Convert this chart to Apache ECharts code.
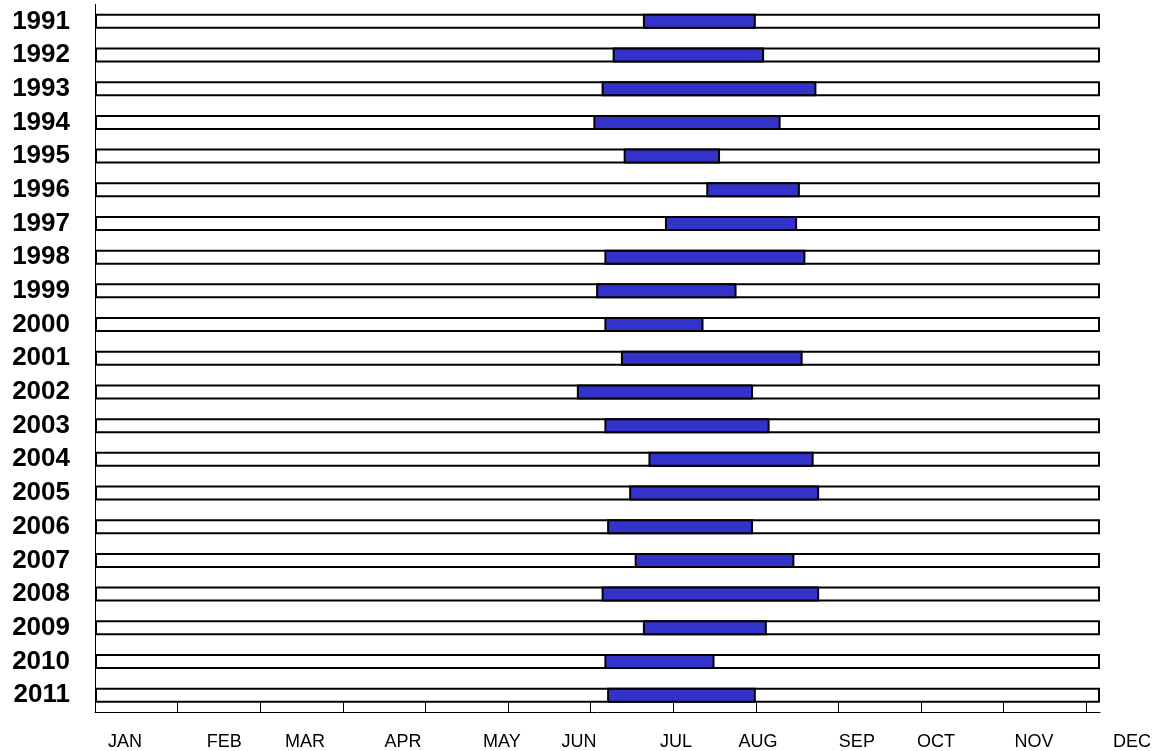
<!DOCTYPE html>
<html>
<head>
<meta charset="utf-8">
<script src="https://cdn.jsdelivr.net/npm/echarts@6/dist/echarts.min.js"></script>
<style>
html,body{margin:0;padding:0;background:#fff;}
#chart{width:1165px;height:751px;}
</style>
</head>
<body>
<div id="chart"></div>
<script>
// Years (rows, top to bottom)
var years = ['1991','1992','1993','1994','1995','1996','1997','1998','1999','2000','2001','2002','2003','2004','2005','2006','2007','2008','2009','2010','2011'];
// Start day-of-year of the blue period
var startDay = [199,188,184,181,192,222,207,185,182,185,191,175,185,201,194,186,196,184,199,185,186];
// End day-of-year of the blue period
var endDay   = [240,243,262,249,227,256,255,258,233,221,257,239,245,261,263,239,254,263,244,225,240];
// Full-year length (white background bar)
var yearLength = 365;
// Tick marks on the day axis
var tickDays = [0,30,60,90,120,150,180,210,240,270,300,330,360];
// Month label text and the day-of-year where each label sits
var monthNames = ['JAN','FEB','MAR','APR','MAY','JUN','JUL','AUG','SEP','OCT','NOV','DEC'];
var monthLabelDays = [10.9,46.9,76.3,111.9,147.8,175.8,211.0,240.8,276.7,305.4,341.0,376.6];

var fullBar = years.map(function(){ return yearLength; });
var spanLen = endDay.map(function(e,i){ return e - startDay[i]; });

var chart = echarts.init(document.getElementById('chart'), null, {renderer:'canvas'});
var option = {
  animation: false,
  backgroundColor: '#ffffff',
  grid: [
    {left: 95, right: 65, top: 4.5, bottom: 39},
    {left: 95, right: 0, top: 4.5, bottom: 39}
  ],
  xAxis: [
    {
      type: 'value', gridIndex: 0, min: 0, max: yearLength, interval: 30,
      axisLine: {show: true, lineStyle: {color: '#000', width: 1}},
      axisTick: {show: true, inside: true, length: 10, customValues: tickDays, lineStyle: {color: '#000', width: 1}},
      axisLabel: {show: false},
      splitLine: {show: false}
    },
    {
      type: 'value', gridIndex: 1, min: 0, max: yearLength * 1070 / 1005,
      axisLine: {show: false}, axisTick: {show: false}, splitLine: {show: false},
      axisLabel: {
        show: true, margin: 28, color: '#000', fontSize: 18,
        fontFamily: 'Liberation Sans, Arial, sans-serif',
        customValues: monthLabelDays,
        formatter: function(v){
          var best = 0, bd = 1e9;
          for (var i = 0; i < monthLabelDays.length; i++) {
            var d = Math.abs(monthLabelDays[i] - v);
            if (d < bd) { bd = d; best = i; }
          }
          return monthNames[best];
        }
      }
    }
  ],
  yAxis: [
    {
      type: 'category', gridIndex: 0, data: years, inverse: true,
      axisLine: {show: true, lineStyle: {color: '#000', width: 1}},
      axisTick: {show: false},
      axisLabel: {
        interval: 0, hideOverlap: false,
        color: '#000', fontSize: 26, fontWeight: 'bold', margin: 25,
        fontFamily: 'Liberation Sans, Arial, sans-serif',
        lineHeight: 26, padding: [2, 0, 0, 0]
      },
      splitLine: {show: false}
    },
    {
      type: 'category', gridIndex: 1, data: years, inverse: true, show: false
    }
  ],
  series: [
    {
      name: 'year', type: 'bar', xAxisIndex: 0, yAxisIndex: 0,
      data: fullBar, barWidth: 15, barGap: '-100%',
      itemStyle: {color: '#ffffff', borderColor: '#000', borderWidth: 2},
      silent: true
    },
    {
      name: 'offset', type: 'bar', stack: 'period', xAxisIndex: 0, yAxisIndex: 0,
      data: startDay, barWidth: 15, barGap: '-100%',
      itemStyle: {color: 'rgba(0,0,0,0)', borderWidth: 0},
      silent: true
    },
    {
      name: 'period', type: 'bar', stack: 'period', xAxisIndex: 0, yAxisIndex: 0,
      data: spanLen, barWidth: 15, barGap: '-100%',
      itemStyle: {color: '#3333CC', borderColor: '#000', borderWidth: 2},
      silent: true
    }
  ]
};
chart.setOption(option);
</script>
</body>
</html>
